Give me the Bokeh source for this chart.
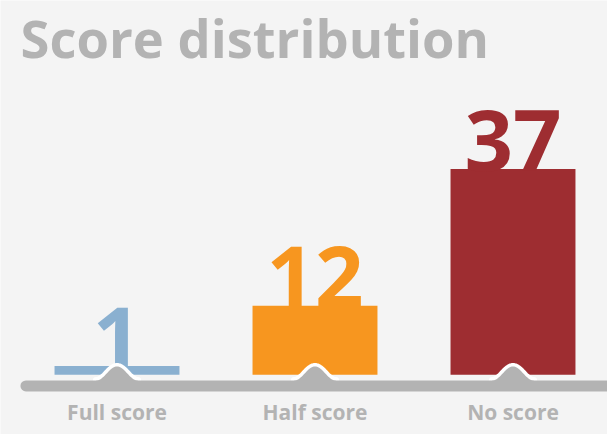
import numpy as np
from bokeh.plotting import figure
from bokeh.models import Range1d, Label, ColumnDataSource
from bokeh.core.properties import value
from bokeh.embed import file_html
from bokeh.resources import INLINE

# ---- data ----
categories = ["Full score", "Half score", "No score"]
counts = [1, 12, 37]
colors = ["#8ab0d0", "#f7961f", "#9e2d31"]
title_text = "Score distribution"

# ---- style constants ----
BG = "#f4f4f4"
GRAY = "#b3b3b3"
FONT = "Open Sans"
PX_PER_UNIT = 5.47          # vertical pixels per count
BAR_BASE = -0.6             # bar bottom (data units)
BAND_Y = -2.65              # centre of baseline band
BAND_HALF = 5.5 / PX_PER_UNIT
BUMP_H = 14 / PX_PER_UNIT
BUMP_W = 16.5 / 198
LABEL_Y = -8.65

xs = list(range(len(categories)))

p = figure(width=607, height=434,
           x_range=Range1d(-0.5884, 2.4773), y_range=Range1d(-11.52, 67.82),
           output_backend="svg", toolbar_location=None, min_border=0,
           background_fill_color=BG, border_fill_color=BG,
           outline_line_color=None)
p.axis.visible = False
p.grid.visible = False

src = ColumnDataSource(dict(x=xs, cat=categories, n=counts,
                            label=[str(c) for c in counts], color=colors))

# bars
p.vbar(x="x", top="n", bottom=BAR_BASE, width=0.631, color="color",
       line_color=None, source=src)

# value labels (sit on bar tops, same colour)
p.text(x="x", y="n", text="label", text_color="color", source=src,
       text_align="center", text_baseline="alphabetic", y_offset=-29,
       text_font=value(FONT), text_font_style="bold", text_font_size="85px")

# bumps: white halo then gray bumps
t = np.linspace(-1, 1, 41)
band_top = BAND_Y + BAND_HALF
halo_xs, halo_ys, bump_xs, bump_ys = [], [], [], []
for x in xs:
    bx = x + t * BUMP_W * 1.25
    by = band_top + BUMP_H * (1 + np.cos(np.pi * t)) / 2
    halo_xs.append(list(bx))
    halo_ys.append(list(by))
    bump_xs.append([bx[0]] + list(bx) + [bx[-1]])
    bump_ys.append([BAND_Y] + list(by) + [BAND_Y])
p.multi_line(xs=halo_xs, ys=halo_ys, line_color="white", line_width=7,
             line_cap="round", line_join="round")
p.patches(xs=bump_xs, ys=bump_ys, fill_color=GRAY, line_color=None)

# baseline band
p.segment(x0=[-0.46], y0=[BAND_Y], x1=[2.7], y1=[BAND_Y], line_color=GRAY,
          line_width=11, line_cap="round")

# category labels
p.text(x="x", y=LABEL_Y, text="cat", source=src, text_color=GRAY,
       text_align="center", text_baseline="alphabetic", y_offset=-7,
       text_font=value(FONT), text_font_style="bold", text_font_size="21px")

# title
p.add_layout(Label(x=20, y=434 - 53 + 16, x_units="screen", y_units="screen",
                   text=title_text, text_color=GRAY, text_font=FONT,
                   text_font_style="bold", text_font_size="52.5px",
                   text_baseline="alphabetic"))

open("out.html", "w").write(file_html(p, INLINE))
